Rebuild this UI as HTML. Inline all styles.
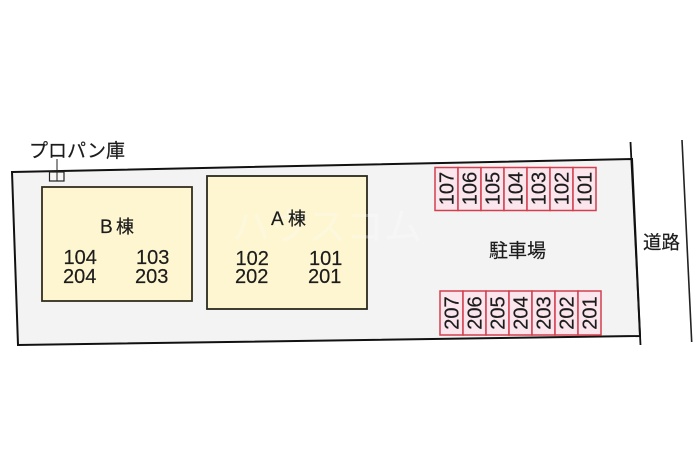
<!DOCTYPE html>
<html>
<head>
<meta charset="utf-8">
<style>
html,body{margin:0;padding:0;background:#fff;}
svg{display:block;width:700px;height:466px;}
text{font-family:"Liberation Sans","Noto Sans CJK JP",sans-serif;fill:#1c1c1c;stroke:#1c1c1c;stroke-width:.2;}
</style>
</head>
<body>
<svg xmlns="http://www.w3.org/2000/svg" width="700" height="466" viewBox="0 0 700 466">
<rect width="700" height="466" fill="#fff"/>
<polygon points="12,172 632,159 640,336 18,345" fill="#f3f3f4" stroke="#111" stroke-width="2"/>
<line x1="630.5" y1="142" x2="640.5" y2="345" stroke="#111" stroke-width="1.8"/>
<line x1="682" y1="140" x2="691.7" y2="342" stroke="#222" stroke-width="1.6"/>

<rect x="42" y="187" width="150" height="114" fill="#fdf6d0" stroke="#332f1c" stroke-width="1.8"/>
<rect x="207" y="176" width="160" height="133" fill="#fdf6d0" stroke="#2a2a1c" stroke-width="1.8"/>

<text x="232" y="240" font-size="38" style="fill:#ffffff;stroke:none;opacity:.28">ハウスコム</text>

<rect x="49.5" y="172" width="14.5" height="9" fill="#f6f6f6" stroke="#222" stroke-width="1.2"/>
<line x1="57" y1="159" x2="57" y2="181" stroke="#222" stroke-width="1"/>
<text x="29" y="157" font-size="19">プロパン庫</text>

<text x="100" y="233" font-size="19">B</text>
<text x="116" y="233" font-size="18">棟</text>
<text x="271" y="225" font-size="19">A</text>
<text x="288" y="225" font-size="18">棟</text>

<g font-size="20">
<text x="63.5" y="264">104</text>
<text x="136" y="264">103</text>
<text x="63" y="283">204</text>
<text x="135" y="283">203</text>
<text x="235.5" y="265">102</text>
<text x="309" y="265">101</text>
<text x="235" y="283">202</text>
<text x="308" y="283">201</text>
</g>

<text x="489" y="257" font-size="19">駐車場</text>
<text x="643" y="249" font-size="18.5">道路</text>

<g fill="#fae6ec" stroke="#d2404f" stroke-width="1.5">
<rect x="435" y="167.5" width="23" height="43"/>
<rect x="458" y="167.5" width="23" height="43"/>
<rect x="481" y="167.5" width="23" height="43"/>
<rect x="504" y="167.5" width="23" height="43"/>
<rect x="527" y="167.5" width="23" height="43"/>
<rect x="550" y="167.5" width="23" height="43"/>
<rect x="573" y="167.5" width="23" height="43"/>
<rect x="440" y="291" width="23" height="44"/>
<rect x="463" y="291" width="23" height="44"/>
<rect x="486" y="291" width="23" height="44"/>
<rect x="509" y="291" width="23" height="44"/>
<rect x="532" y="291" width="23" height="44"/>
<rect x="555" y="291" width="23" height="44"/>
<rect x="578" y="291" width="23" height="44"/>
</g>

<g font-size="20" text-anchor="middle">
<text transform="translate(453.5,188.5) rotate(-90)">107</text>
<text transform="translate(476.5,188.5) rotate(-90)">106</text>
<text transform="translate(499.5,188.5) rotate(-90)">105</text>
<text transform="translate(522.5,188.5) rotate(-90)">104</text>
<text transform="translate(545.5,188.5) rotate(-90)">103</text>
<text transform="translate(568.5,188.5) rotate(-90)">102</text>
<text transform="translate(591.5,188.5) rotate(-90)">101</text>
<text transform="translate(458.5,313) rotate(-90)">207</text>
<text transform="translate(481.5,313) rotate(-90)">206</text>
<text transform="translate(504.5,313) rotate(-90)">205</text>
<text transform="translate(527.5,313) rotate(-90)">204</text>
<text transform="translate(550.5,313) rotate(-90)">203</text>
<text transform="translate(573.5,313) rotate(-90)">202</text>
<text transform="translate(596.5,313) rotate(-90)">201</text>
</g>
</svg>
</body>
</html>
